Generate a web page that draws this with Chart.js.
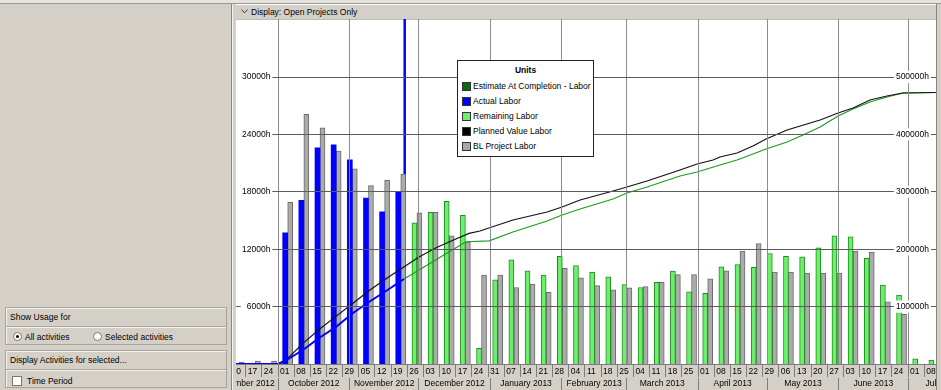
<!DOCTYPE html>
<html>
<head>
<meta charset="utf-8">
<title>Resource Usage Profile</title>
<script src="https://cdn.jsdelivr.net/npm/chart.js@4.4.1/dist/chart.umd.min.js"></script>
<style>
  html, body { margin:0; padding:0; }
  body { width:941px; height:390px; overflow:hidden; position:relative; background:#d4d0c8;
         font-family:"Liberation Sans", Arial, sans-serif; font-size:8.5px; color:#000; }
  .abs { position:absolute; }
  #topstrip { left:0; top:0; width:941px; height:3px; background:#e6e4de; border-bottom:1px solid #9c9890; }
  #vdiv { left:231px; top:4px; width:1px; height:386px; background:#8a867e; }
  #vdiv2 { left:232px; top:4px; width:1px; height:386px; background:#f4f2ee; }
  #header { left:236px; top:4px; width:700px; height:14px; background:#d4d0c8; border-top:1px solid #ffffff; border-bottom:1px solid #8e8a82; }
  #header span { position:absolute; left:15px; top:2px; line-height:10px; white-space:nowrap; }
  #header svg { position:absolute; left:5px; top:4px; }
  #wrap { left:236px; top:19px; width:700px; height:371px; }
  #redge { left:936px; top:4px; width:1px; height:386px; background:#8a867e; }
  #legend { left:457px; top:60px; width:135px; height:95px; background:#fff; border:1px solid #222; z-index:5; }
  .lgt { position:absolute; left:0; right:0; top:4px; text-align:center; font-weight:bold; line-height:11px; }
  .lgr { position:absolute; left:4px; height:10px; line-height:10px; white-space:nowrap; }
  .lgr i { position:absolute; left:0; top:1px; width:7px; height:7px; border:1px solid #333; }
  .lgr span { position:absolute; left:11px; top:0; }
  .grp { position:absolute; left:5px; width:220px; height:36px; border:1px solid #a8a49c; box-shadow: inset 1px 1px 0 #f4f2ee; }
  .gh { position:absolute; left:0; top:0; width:220px; height:18px; border-bottom:1px solid #a8a49c; box-shadow: 0 1px 0 #f4f2ee; }
  .gh span, .txt { position:absolute; white-space:nowrap; line-height:10px; }
  .gh span { left:4px; top:4px; }
  .radio { position:absolute; width:7px; height:7px; border-radius:50%; background:#fff; border:1px solid #7a766e; }
  .radio.on::after { content:''; position:absolute; left:2px; top:2px; width:3px; height:3px; border-radius:50%; background:#000; }
  .chk { position:absolute; width:8px; height:8px; background:#fff; border:1px solid #7a766e; }
</style>
</head>
<body>
<div id="topstrip" class="abs"></div>
<div id="vdiv" class="abs"></div>
<div id="vdiv2" class="abs"></div>
<div id="header" class="abs">
  <svg width="7" height="5" viewBox="0 0 7 5"><polyline points="0.5,0.5 3.5,4 6.5,0.5" fill="none" stroke="#333" stroke-width="0.9"/></svg>
  <span>Display: Open Projects Only</span>
</div>
<div id="wrap" class="abs"><canvas id="c" width="700" height="371"></canvas></div>
<div id="redge" class="abs"></div>
<div id="legend" class="abs"></div>

<div class="grp" style="top:307px;">
  <div class="gh"><span>Show Usage for</span></div>
  <div class="radio on" style="left:7px;top:24px;"></div>
  <span class="txt" style="left:19px;top:24px;">All activities</span>
  <div class="radio" style="left:87px;top:24px;"></div>
  <span class="txt" style="left:99px;top:24px;">Selected activities</span>
</div>
<div class="grp" style="top:350px;">
  <div class="gh"><span>Display Activities for selected...</span></div>
  <div class="chk" style="left:6px;top:25px;"></div>
  <span class="txt" style="left:21px;top:25px;">Time Period</span>
</div>

<script>
// ---------------- data ----------------
const weekLabels = ['10','17','24','01','08','15','22','29','05','12','19','26','03','10','17','24','31',
  '07','14','21','28','04','11','18','25','04','11','18','25','01','08','15','22','29','06','13','20','27',
  '03','10','17','24','01','08'];
const monthLabels = ['September 2012','October 2012','November 2012','December 2012','January 2013',
  'February 2013','March 2013','April 2013','May 2013','June 2013','July 2013'];
const leftTicks = [6000, 12000, 18000, 24000, 30000];
const rightTicks = [100000, 200000, 300000, 400000, 500000];

// weekly hours, one entry per week starting 10 Sep 2012
const actualLabor = [null,null,null,13700,17100,22600,22900,21350,17350,15900,18000,
  null,null,null,null,null,null,null,null,null,null,null,null,null,null,null,null,null,null,null,null,
  null,null,null,null,null,null,null,null,null,null,null,null,null];
const remainingLabor = [null,null,null,null,null,null,null,null,null,null,null,
  14750,15850,17000,15550,1650,8800,10900,9750,9300,11250,10300,9600,9100,8300,8000,8550,9700,7550,7400,
  10150,10400,10100,11550,11250,11200,12150,13400,13300,11050,8250,7200,550,400];
const blProjectLabor = [200,300,300,16900,26100,24700,22250,20400,18650,19200,19850,
  15800,15850,13400,12750,9300,9300,8000,8350,7500,10000,9000,8200,7750,7950,8100,8550,9350,9350,8900,
  9750,11800,12600,9600,9600,9500,9500,9500,11800,11700,6500,5200,null,null];

// cumulative curves: day offset from 1 Oct 2012, cumulative hours
const pvDays = [-18.2,0,3.5,10.8,17.8,25.1,32.5,39.4,46.8,54.2,61.1,68.5,75.8,82.8,87.5,101.8,116.6,123.1,
  130.9,145.2,151.2,159.9,174.2,181.6,188.5,191.5,198.9,205.8,211.5,220.6,234.9,242.7,249.2,256.5,263.9,270.8,285.1];
const pvValues = [100,800,7000,36000,60000,83000,106000,127500,148500,168000,186500,202500,215500,227500,
  231700,250800,264800,273500,285700,301400,308300,318800,338000,348400,355400,360600,367600,379800,392000,
  407600,425000,437200,446000,460000,466900,472100,473000];
const eacDays = [54.6,61.1,68.5,75.8,81.5,91.5,101.8,116.6,123.1,130.9,145.2,151.2,159.9,174.2,181.6,191.5,
  198.9,205.8,211.5,220.6,227.5,234.9,242.7,249.2,256.5,263.9,270.8,285.1];
const eacValues = [148100,163700,181600,199400,213000,214600,229900,249100,259600,270000,287400,297900,
  308300,327500,334500,346700,355400,365800,374500,386700,398900,412900,432000,444200,456400,465100,472100,473000];
const actDays = [-18.2,0,2.2,10.8,17.8,25.1,32.5,39.4,46.8,54.6];
const actValues = [0,0,3500,24400,45300,64500,88800,108000,127200,148100];
const dataDate = 54.9;

const legendTitle = 'Units';
const legendLabels = ['Estimate At Completion - Labor','Actual Labor','Remaining Labor','Planned Value Labor','BL Project Labor'];
const legendColors = ['#0b6b0b','#0000ff','#6cf06c','#000000','#a8a8a8'];

// ---------------- derived positions ----------------
const ORIGIN = Date.UTC(2012, 9, 1), DAY = 864e5;
const weekDay = weekLabels.map((_, i) => (Date.UTC(2012, 8, 10 + 7 * i) - ORIGIN) / DAY);
const monthStart = [];
for (let k = 0; k <= monthLabels.length; k++) monthStart.push((Date.UTC(2012, 8 + k, 1) - ORIGIN) / DAY);
const monthTicks = [];
monthLabels.forEach((lab, k) => {
  monthTicks.push({ value: monthStart[k], name: '' });
  monthTicks.push({ value: (monthStart[k] + monthStart[k + 1]) / 2, name: lab });
});
monthTicks.push({ value: monthStart[monthLabels.length], name: '' });

const BAR_SHIFT = 4.2;
const toPts = vals => vals.map((v, i) => v == null ? null : { x: weekDay[i] + BAR_SHIFT, y: v }).filter(Boolean);
const pair = (xs, ys) => xs.map((x, i) => ({ x, y: ys[i] }));

const X_MIN = -18.2, X_MAX = 285.13, Y_MAX = 36063, Y2_MAX = 601045;

// ---------------- legend ----------------
const lg = document.getElementById('legend');
const lt = document.createElement('div'); lt.className = 'lgt'; lt.textContent = legendTitle; lg.appendChild(lt);
legendLabels.forEach((lab, i) => {
  const row = document.createElement('div'); row.className = 'lgr'; row.style.top = (19.5 + i * 15.2) + 'px';
  const sw = document.createElement('i'); sw.style.background = legendColors[i];
  const sp = document.createElement('span'); sp.textContent = lab;
  row.appendChild(sw); row.appendChild(sp); lg.appendChild(row);
});

// ---------------- chart ----------------
Chart.defaults.font.family = '"Liberation Sans", Arial, sans-serif';
Chart.defaults.font.size = 8.5;
Chart.defaults.color = '#000';

const whiteArea = {
  id: 'whiteArea',
  beforeDraw(chart) {
    const { ctx, chartArea: a } = chart;
    ctx.save(); ctx.fillStyle = '#ffffff';
    ctx.fillRect(a.left, a.top, a.right - a.left, a.bottom - a.top);
    ctx.restore();
  }
};
const zeroPad = s => { s.paddingLeft = 0; s.paddingRight = 0; s.paddingTop = 0; s.paddingBottom = 0; };

new Chart(document.getElementById('c'), {
  type: 'bar',
  data: {
    datasets: [
      { type: 'line', label: 'Actual Labor (cumulative)', data: pair(actDays, actValues), xAxisID: 'x', yAxisID: 'y2',
        borderColor: '#0000ff', borderWidth: 2, pointRadius: 0, tension: 0, order: 0 },
      { type: 'line', label: legendLabels[3], data: pair(pvDays, pvValues), xAxisID: 'x', yAxisID: 'y2',
        borderColor: '#111111', borderWidth: 1.2, pointRadius: 0, tension: 0, order: 1 },
      { type: 'line', label: legendLabels[0], data: pair(eacDays, eacValues), xAxisID: 'x', yAxisID: 'y2',
        borderColor: '#1f9a1f', borderWidth: 1.2, pointRadius: 0, tension: 0, order: 2 },
      { type: 'bar', label: legendLabels[1], data: toPts(actualLabor), xAxisID: 'x', yAxisID: 'y',
        backgroundColor: '#0000ff', borderWidth: 0, stack: 'cur', order: 5, barThickness: 5 },
      { type: 'bar', label: legendLabels[2], data: toPts(remainingLabor), xAxisID: 'x', yAxisID: 'y',
        backgroundColor: '#6cf06c', borderColor: '#1e8c1e', borderWidth: 1, stack: 'cur', order: 5, barThickness: 5 },
      { type: 'bar', label: legendLabels[4], data: toPts(blProjectLabor), xAxisID: 'x', yAxisID: 'y',
        backgroundColor: '#ababab', borderColor: '#6a6a6a', borderWidth: 1, stack: 'bl', order: 6, barThickness: 5 },
      { type: 'line', label: 'Data Date', data: [{ x: dataDate, y: 0 }, { x: dataDate, y: Y_MAX }], xAxisID: 'x', yAxisID: 'y',
        borderColor: '#0000ff', borderWidth: 2.5, pointRadius: 0, order: 10 }
    ]
  },
  options: {
    responsive: false, animation: false, devicePixelRatio: 1,
    layout: { padding: 0 },
    plugins: { legend: { display: false }, tooltip: { enabled: false } },
    scales: {
      x: {
        type: 'linear', position: 'bottom', weight: 0, min: X_MIN, max: X_MAX, offset: false,
        afterBuildTicks: s => { s.ticks = weekDay.map(v => ({ value: v })); },
        afterFit: s => { zeroPad(s); s.height = 13; },
        grid: { offset: false, drawOnChartArea: false, drawTicks: true, tickLength: 13, tickColor: '#7c7c7c' },
        border: { display: true, color: '#7c7c7c' },
        ticks: { autoSkip: false, maxRotation: 0, minRotation: 0, align: 'start', labelOffset: 2, padding: -10.6,
                 callback: (v, i) => weekLabels[i] }
      },
      xm: {
        type: 'linear', position: 'bottom', weight: 1, min: X_MIN, max: X_MAX, offset: false,
        afterBuildTicks: s => { s.ticks = monthTicks.map(t => ({ value: t.value, name: t.name })); },
        afterFit: s => { zeroPad(s); s.height = 13; },
        grid: { offset: false, drawOnChartArea: true, drawTicks: true, tickLength: 13, z: 1,
                color: c => (c.tick && c.tick.name) ? 'rgba(0,0,0,0)' : '#8c8c8c',
                tickColor: c => (c.tick && c.tick.name) ? 'rgba(0,0,0,0)' : '#7c7c7c' },
        border: { display: true, color: '#7c7c7c' },
        ticks: { autoSkip: false, maxRotation: 0, minRotation: 0, padding: -11.6,
                 callback: (v, i, t) => t[i].name }
      },
      y: {
        type: 'linear', position: 'left', min: 0, max: Y_MAX,
        afterBuildTicks: s => { s.ticks = leftTicks.map(v => ({ value: v })); },
        afterFit: s => { zeroPad(s); s.width = 0; },
        grid: { color: '#5c5c5c', drawTicks: false, z: 1 },
        border: { display: false },
        ticks: { mirror: true, crossAlign: 'far', padding: 6, z: 2, callback: v => v + 'h',
                 showLabelBackdrop: true, backdropColor: '#ffffff', backdropPadding: { top: 1, bottom: 1, left: 6, right: 2 } }
      },
      y2: {
        type: 'linear', position: 'right', min: 0, max: Y2_MAX,
        afterBuildTicks: s => { s.ticks = rightTicks.map(v => ({ value: v })); },
        afterFit: s => { zeroPad(s); s.width = 0; },
        grid: { display: false, drawTicks: false },
        border: { display: false },
        ticks: { mirror: true, padding: -7, z: 2, callback: v => v + 'h',
                 showLabelBackdrop: true, backdropColor: '#ffffff', backdropPadding: { top: 1, bottom: 1, left: 2, right: 2 } }
      }
    }
  },
  plugins: [whiteArea]
});
</script>
</body>
</html>
